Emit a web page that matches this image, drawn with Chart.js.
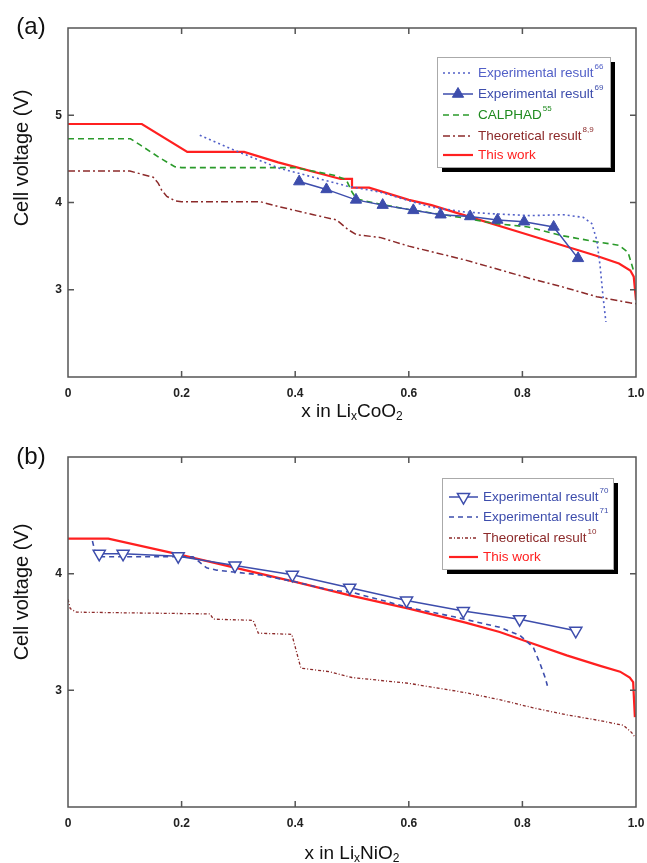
<!DOCTYPE html>
<html>
<head>
<meta charset="utf-8">
<script src="https://cdn.jsdelivr.net/npm/chart.js@4.4.0/dist/chart.umd.min.js"></script>
<style>
  html, body { margin: 0; padding: 0; background: #fff; }
  .panel { position: absolute; left: 0; }
  #wrapA { top: 0; }
  #wrapB { top: 420px; }
</style>
</head>
<body>
<div class="panel" id="wrapA"><canvas id="chartA" width="647" height="420"></canvas></div>
<div class="panel" id="wrapB"><canvas id="chartB" width="647" height="443"></canvas></div>
<script>
// tick labels
const xTicks = [0, 0.2, 0.4, 0.6, 0.8, 1.0];
const yTicksA = [3, 4, 5];
const yTicksB = [3, 4];

// (a) LixCoO2
const exp66X = [0.232, 0.3, 0.373, 0.432, 0.49, 0.549, 0.637, 0.7, 0.75, 0.813, 0.872, 0.907, 0.922, 0.931, 0.937, 0.942, 0.947];
const exp66Y = [4.77, 4.58, 4.39, 4.29, 4.19, 4.12, 3.95, 3.89, 3.87, 3.85, 3.86, 3.83, 3.76, 3.57, 3.26, 2.92, 2.63];

const exp69X = [0.407, 0.455, 0.507, 0.554, 0.608, 0.656, 0.708, 0.756, 0.803, 0.855, 0.898];
const exp69Y = [4.24, 4.15, 4.03, 3.97, 3.91, 3.86, 3.84, 3.80, 3.78, 3.72, 3.36];

const calphadX = [0, 0.11, 0.127, 0.162, 0.188, 0.2, 0.4, 0.47, 0.49, 0.5, 0.508, 0.55, 0.6, 0.65, 0.7, 0.75, 0.81, 0.87, 0.93, 0.97, 0.986, 0.992, 0.997];
const calphadY = [4.73, 4.73, 4.66, 4.51, 4.41, 4.40, 4.40, 4.31, 4.26, 4.12, 4.04, 3.98, 3.92, 3.87, 3.82, 3.76, 3.72, 3.62, 3.55, 3.51, 3.43, 3.30, 3.19];

const theoAX = [0, 0.109, 0.15, 0.159, 0.165, 0.174, 0.188, 0.2, 0.338, 0.373, 0.432, 0.473, 0.493, 0.508, 0.549, 0.6, 0.7, 0.813, 0.872, 0.931, 0.989, 1.0];
const theoAY = [4.36, 4.36, 4.29, 4.22, 4.14, 4.07, 4.02, 4.01, 4.01, 3.95, 3.86, 3.80, 3.69, 3.63, 3.60, 3.50, 3.34, 3.13, 3.03, 2.92, 2.85, 2.84];

const workAX = [0, 0.13, 0.21, 0.31, 0.37, 0.48, 0.5, 0.5, 0.53, 0.6, 0.64, 0.7, 0.8, 0.87, 0.93, 0.97, 0.99, 0.996, 1.0];
const workAY = [4.9, 4.9, 4.58, 4.58, 4.46, 4.27, 4.27, 4.17, 4.17, 4.03, 3.97, 3.85, 3.65, 3.51, 3.39, 3.30, 3.22, 3.15, 2.88];

const labelsA = ["Experimental result", "Experimental result", "CALPHAD", "Theoretical result", "This work"];
const refsA = ["66", "69", "55", "8,9", ""];

// (b) LixNiO2
const exp70X = [0.055, 0.097, 0.194, 0.294, 0.395, 0.496, 0.596, 0.696, 0.795, 0.894];
const exp70Y = [4.17, 4.17, 4.15, 4.07, 3.99, 3.88, 3.77, 3.68, 3.61, 3.51];

const exp71X = [0.043, 0.048, 0.06, 0.22, 0.244, 0.262, 0.338, 0.4, 0.46, 0.5, 0.6, 0.68, 0.76, 0.796, 0.819, 0.831, 0.84, 0.844];
const exp71Y = [4.28, 4.18, 4.145, 4.145, 4.05, 4.03, 3.99, 3.93, 3.86, 3.84, 3.71, 3.63, 3.54, 3.47, 3.37, 3.23, 3.11, 3.04];

const theoBX = [0, 0.004, 0.015, 0.25, 0.256, 0.326, 0.335, 0.394, 0.41, 0.46, 0.5, 0.6, 0.7, 0.76, 0.819, 0.878, 0.937, 0.978, 0.992, 0.998];
const theoBY = [3.78, 3.70, 3.67, 3.655, 3.61, 3.60, 3.49, 3.48, 3.19, 3.16, 3.11, 3.06, 2.98, 2.92, 2.85, 2.79, 2.74, 2.70, 2.64, 2.60];

const workBX = [0, 0.071, 0.191, 0.338, 0.4, 0.5, 0.6, 0.7, 0.76, 0.819, 0.878, 0.937, 0.972, 0.989, 0.995, 0.998];
const workBY = [4.30, 4.30, 4.17, 4.00, 3.93, 3.81, 3.70, 3.58, 3.50, 3.40, 3.30, 3.21, 3.16, 3.11, 3.07, 2.77];

const labelsB = ["Experimental result", "Experimental result", "Theoretical result", "This work"];
const refsB = ["70", "71", "10", ""];

const BLUE_DOT = "#5260c8";
const BLUE = "#3d4dac";
const GREEN = "#2a9a2a";
const DARKRED = "#8c2a2a";
const RED = "#ff2020";
const FONT = "'Liberation Sans', Arial, sans-serif";

const pts = (xs, ys) => xs.map((x, i) => ({ x: x, y: ys[i] }));

function line(label, xs, ys, color, dash, width, extra) {
  return Object.assign({
    label: label,
    data: pts(xs, ys),
    showLine: true,
    borderColor: color,
    backgroundColor: color,
    borderDash: dash,
    borderWidth: width,
    pointRadius: 0,
    textColor: color,
  }, extra || {});
}

// frame, inner ticks, titles, legend
function decor(cfg) {
  return {
    id: "decor",
    afterDraw(chart) {
      const ctx = chart.ctx;
      const a = chart.chartArea;
      const xs = chart.scales.x, ys = chart.scales.y;
      ctx.save();
      ctx.strokeStyle = "#555";
      ctx.lineWidth = 1.5;
      ctx.setLineDash([]);
      ctx.strokeRect(a.left, a.top, a.right - a.left, a.bottom - a.top);
      ctx.beginPath();
      xTicks.forEach((v) => {
        if (v <= xs.min || v >= xs.max) return;
        const px = xs.getPixelForValue(v);
        ctx.moveTo(px, a.bottom); ctx.lineTo(px, a.bottom - 6);
        ctx.moveTo(px, a.top); ctx.lineTo(px, a.top + 6);
      });
      cfg.yTicks.forEach((v) => {
        const py = ys.getPixelForValue(v);
        ctx.moveTo(a.left, py); ctx.lineTo(a.left + 6, py);
        ctx.moveTo(a.right, py); ctx.lineTo(a.right - 6, py);
      });
      ctx.stroke();

      // panel letter
      ctx.fillStyle = "#111";
      ctx.font = "24px " + FONT;
      ctx.textAlign = "center";
      ctx.textBaseline = "middle";
      ctx.fillText(cfg.panel, 31, cfg.panelY);

      // y title
      ctx.save();
      ctx.translate(22, cfg.yTitleY);
      ctx.rotate(-Math.PI / 2);
      ctx.font = "20px " + FONT;
      ctx.fillText("Cell voltage (V)", 0, 0);
      ctx.restore();

      // x title with subscripts
      const parts = [["x in Li", 0], ["x", 1], [cfg.formula, 0], ["2", 1]];
      const big = "19px " + FONT, small = "12px " + FONT;
      let total = 0;
      parts.forEach((p) => { ctx.font = p[1] ? small : big; total += ctx.measureText(p[0]).width; });
      let tx = (a.left + a.right) / 2 - total / 2;
      ctx.textAlign = "left";
      ctx.textBaseline = "alphabetic";
      parts.forEach((p) => {
        ctx.font = p[1] ? small : big;
        ctx.fillText(p[0], tx, cfg.xTitleBase + (p[1] ? 3 : 0));
        tx += ctx.measureText(p[0]).width;
      });

      // legend box with shadow
      const L = cfg.legend;
      ctx.fillStyle = "#000";
      ctx.fillRect(L.x + 5, L.y + 5, L.w, L.h);
      ctx.fillStyle = "#fff";
      ctx.fillRect(L.x, L.y, L.w, L.h);
      ctx.strokeStyle = "#aaa";
      ctx.lineWidth = 1;
      ctx.strokeRect(L.x + 0.5, L.y + 0.5, L.w, L.h);
      chart.data.datasets.forEach((ds, i) => {
        const ry = L.rows[i];
        ctx.strokeStyle = ds.borderColor;
        ctx.lineWidth = ds.borderWidth;
        ctx.setLineDash(ds.borderDash || []);
        ctx.beginPath();
        ctx.moveTo(L.sx0, ry); ctx.lineTo(L.sx1, ry);
        ctx.stroke();
        ctx.setLineDash([]);
        if (ds.pointRadius > 0) {
          ctx.fillStyle = ds.pointBackgroundColor;
          ctx.strokeStyle = ds.pointBorderColor;
          ctx.lineWidth = ds.pointBorderWidth;
          Chart.helpers.drawPoint(ctx, {
            pointStyle: ds.pointStyle, rotation: ds.pointRotation || 0,
            radius: ds.pointRadius, borderWidth: ds.pointBorderWidth,
          }, (L.sx0 + L.sx1) / 2, ry);
        }
        ctx.fillStyle = ds.textColor;
        ctx.font = "13.5px " + FONT;
        ctx.textBaseline = "middle";
        ctx.fillText(ds.label, L.tx, ry);
        const w = ctx.measureText(ds.label).width;
        ctx.font = "8px " + FONT;
        ctx.fillText(cfg.refs[i], L.tx + w + 1, ry - 6);
      });
      ctx.restore();
    },
  };
}

function scalesFor(yMin, yMax, yTicks, xHeight) {
  return {
    x: {
      type: "linear", min: 0, max: 1,
      afterBuildTicks: (axis) => { axis.ticks = xTicks.map((v) => ({ value: v })); },
      afterFit: (s) => { s.height = xHeight; s.paddingLeft = 0; s.paddingRight = 0; },
      grid: { drawOnChartArea: false, drawTicks: false },
      border: { display: false },
      ticks: {
        padding: 9, color: "#222", font: { family: FONT, size: 12, weight: "bold" },
        callback: (v) => (v === 0 ? "0" : Number(v).toFixed(1)),
      },
    },
    y: {
      type: "linear", min: yMin, max: yMax,
      afterBuildTicks: (axis) => { axis.ticks = yTicks.map((v) => ({ value: v })); },
      afterFit: (s) => { s.width = 68; s.paddingTop = 0; s.paddingBottom = 0; },
      grid: { drawOnChartArea: false, drawTicks: false },
      border: { display: false },
      ticks: {
        padding: 6, color: "#222", font: { family: FONT, size: 12, weight: "bold" },
        callback: (v) => String(v),
      },
    },
  };
}

const baseOpts = {
  responsive: false,
  animation: false,
  devicePixelRatio: 1,
  plugins: { legend: { display: false }, tooltip: { enabled: false } },
};

new Chart(document.getElementById("chartA").getContext("2d"), {
  type: "scatter",
  data: {
    datasets: [
      line(labelsA[0], exp66X, exp66Y, BLUE_DOT, [2, 3], 1.6),
      line(labelsA[1], exp69X, exp69Y, BLUE, [], 1.5, {
        pointRadius: 6.5, pointStyle: "triangle", pointBackgroundColor: BLUE,
        pointBorderColor: BLUE, pointBorderWidth: 1,
      }),
      line(labelsA[2], calphadX, calphadY, GREEN, [6, 4], 1.6, { textColor: "#1f8a1f" }),
      line(labelsA[3], theoAX, theoAY, DARKRED, [7, 3, 2, 3], 1.5),
      line(labelsA[4], workAX, workAY, RED, [], 2.2),
    ],
  },
  options: Object.assign({}, baseOpts, {
    layout: { padding: { top: 28, right: 11, left: 0, bottom: 0 } },
    scales: scalesFor(2, 6, yTicksA, 43),
  }),
  plugins: [decor({
    panel: "(a)", panelY: 27, yTicks: yTicksA, yTitleY: 158,
    formula: "CoO", xTitleBase: 417, refs: refsA,
    legend: { x: 437, y: 57, w: 173, h: 110, sx0: 443, sx1: 473, tx: 478, rows: [73, 94, 115, 136, 155] },
  })],
});

new Chart(document.getElementById("chartB").getContext("2d"), {
  type: "scatter",
  data: {
    datasets: [
      line(labelsB[0], exp70X, exp70Y, BLUE, [], 1.5, {
        pointRadius: 7, pointStyle: "triangle", pointRotation: 180,
        pointBackgroundColor: "#fff", pointBorderColor: BLUE, pointBorderWidth: 1.5,
      }),
      line(labelsB[1], exp71X, exp71Y, BLUE, [5, 4], 1.6),
      line(labelsB[2], theoBX, theoBY, DARKRED, [3, 2, 1, 2], 1.3),
      line(labelsB[3], workBX, workBY, RED, [], 2.2),
    ],
  },
  options: Object.assign({}, baseOpts, {
    layout: { padding: { top: 37, right: 11, left: 0, bottom: 0 } },
    scales: scalesFor(2, 5, yTicksB, 56),
  }),
  plugins: [decor({
    panel: "(b)", panelY: 37, yTicks: yTicksB, yTitleY: 172,
    formula: "NiO", xTitleBase: 439, refs: refsB,
    legend: { x: 442, y: 58, w: 171, h: 91, sx0: 449, sx1: 478, tx: 483, rows: [77, 97, 118, 137] },
  })],
});
</script>
</body>
</html>
